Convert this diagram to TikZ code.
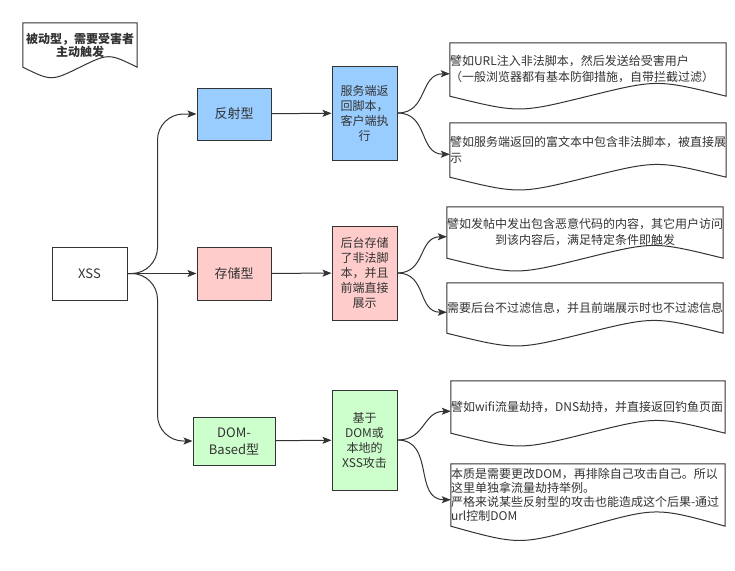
\documentclass[tikz,border=0pt]{standalone}
\usepackage{fontspec}
\usepackage{tikz}
\usetikzlibrary{arrows.meta,calc,positioning}
\newfontfamily\cjk{Noto Sans CJK SC}
\definecolor{fsblue}{HTML}{99CCFF}
\definecolor{ccpink}{HTML}{FFCCCC}
\definecolor{domgreen}{HTML}{CCFFCC}
\definecolor{inkgray}{HTML}{333333}

\tikzset{
  box/.style={draw=inkgray, line width=1pt, text=inkgray, align=center, inner sep=1pt,
    font=\cjk\fontsize{13pt}{17pt}\selectfont},
  descbox/.style={box, minimum width=65pt, text width=52pt,
    font=\cjk\fontsize{12pt}{15pt}\selectfont},
  docbox/.style={text=inkgray, inner xsep=0pt, inner ysep=0pt,
    font=\cjk\fontsize{12pt}{16pt}\selectfont},
  docline/.style={draw=inkgray, line width=1pt},
  link/.style={draw=inkgray, line width=1pt, -{Stealth[length=9pt,width=7pt,inset=2pt]}},
}

\newcommand{\docwave}[2]{%
  \draw[docline] (#1.north west) -- (#1.north east) -- (#1.south east)
    .. controls ($(#1.south east)!0.5!(#1.south)+(0,-#2)$) .. (#1.south)
    .. controls ($(#1.south west)!0.5!(#1.south)+(0,#2)$) .. (#1.south west) -- cycle;
  \coordinate (#1-in) at ($(#1.west)+(0,#2/4)$);}

\begin{document}
\begin{tikzpicture}[x=1pt,y=-1pt]
  \useasboundingbox[fill=white] (0,0) rectangle (735,570);

  \node[docbox, text width=114pt, minimum height=44pt, align=center,
    font=\cjk\bfseries\fontsize{12pt}{13pt}\selectfont] (note) at (80,45)
    {被动型，需要受害者\\主动触发};
  \docwave{note}{14}

  \node[box, minimum width=75pt, minimum height=53pt] (xss) at (89.5,273.5) {XSS};

  \node[box, fill=fsblue, minimum width=74pt, minimum height=52pt] (fanshe) at (234,114) {反射型};
  \node[box, fill=ccpink, minimum width=74pt, minimum height=53pt] (cunchu) at (234,273.5) {存储型};
  \node[box, fill=domgreen, minimum width=82pt, minimum height=48pt] (dombased) at (234,441) {DOM-\\Based型};

  \node[descbox, fill=fsblue, minimum height=94pt] (fsdesc) at (364.5,113)
    {服务端返\\回脚本，\\客户端执\\行};
  \node[descbox, fill=ccpink, minimum height=94pt] (ccdesc) at (364.5,273)
    {后台存储\\了非法脚\\本，并且\\前端直接\\展示};
  \node[descbox, fill=domgreen, minimum height=100pt] (domdesc) at (364.5,440)
    {基于\\DOM或\\本地的\\XSS攻击};

  \node[docbox, text width=276pt, minimum height=53pt, align=left] (doc1) at (588,69.5)
    {譬如URL注入非法脚本，然后发送给受害用户\\（一般浏览器都有基本防御措施，自带拦截过滤）};
  \docwave{doc1}{17}
  \node[docbox, text width=276pt, minimum height=54pt, align=left] (doc2) at (588,150)
    {譬如服务端返回的富文本中包含非法脚本，被直接展\\示};
  \docwave{doc2}{17}
  \node[docbox, text width=276pt, minimum height=51pt, align=center] (doc3) at (585,232.5)
    {譬如发帖中发出包含恶意代码的内容，其它用户访问\\到该内容后，满足特定条件即触发};
  \docwave{doc3}{17}
  \node[docbox, text width=276pt, minimum height=50pt, align=left] (doc4) at (585,308)
    {需要后台不过滤信息，并且前端展示时也不过滤信息};
  \docwave{doc4}{17}
  \node[docbox, text width=274pt, minimum height=52pt, align=left] (doc5) at (588,407)
    {譬如wifi流量劫持，DNS劫持，并直接返回钓鱼页面};
  \docwave{doc5}{17}
  \node[docbox, text width=274pt, minimum height=62pt, align=left,
    font=\cjk\fontsize{12pt}{14pt}\selectfont] (doc6) at (588,495)
    {本质是需要更改DOM，再排除自己攻击自己。所以\\这里单独拿流量劫持举例。\\严格来说某些反射型的攻击也能造成这个后果-通过\\url控制DOM};
  \docwave{doc6}{19}

  \draw[link, rounded corners=26pt] (xss.east) -- ++(30,0) |- (fanshe.west);
  \draw[link] (xss) -- (cunchu);
  \draw[link, rounded corners=26pt] (xss.east) -- ++(30,0) |- (dombased.west);

  \draw[link] (fanshe) -- (fsdesc);
  \draw[link] (cunchu) -- (ccdesc);
  \draw[link] (dombased) -- (domdesc);

  \draw[link] (fsdesc.east) to[out=0,in=180,looseness=1.2] (doc1-in);
  \draw[link] (fsdesc.east) to[out=0,in=180,looseness=1.2] (doc2-in);
  \draw[link] (ccdesc.east) to[out=0,in=180,looseness=1.2] (doc3-in);
  \draw[link] (ccdesc.east) to[out=0,in=180,looseness=1.2] (doc4-in);
  \draw[link] (domdesc.east) to[out=0,in=180,looseness=1.2] (doc5-in);
  \draw[link] (domdesc.east) to[out=0,in=180,looseness=1.2] (doc6-in);
\end{tikzpicture}
\end{document}
